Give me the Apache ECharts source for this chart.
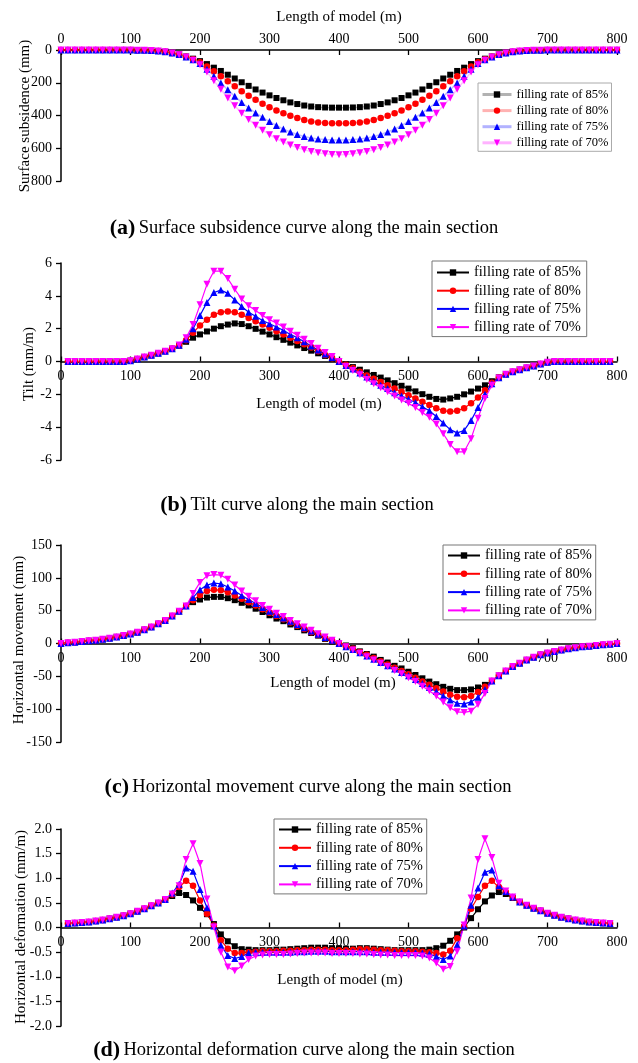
<!DOCTYPE html>
<html><head><meta charset="utf-8">
<script src="https://cdn.jsdelivr.net/npm/echarts/dist/echarts.min.js"></script>
<style>html,body{margin:0;padding:0;background:#fff}#c{width:638px;height:1063px}</style>
</head><body><div id="c"></div>
<script>
const NAMES = ['filling rate of 85%','filling rate of 80%','filling rate of 75%','filling rate of 70%'];
const COLORS = ['#000000','#ff0000','#0000ff','#ff00ff'];
const X_FULL = [0,10,20,30,40,50,60,70,80,90,100,110,120,130,140,150,160,170,180,190,200,210,220,230,240,250,260,270,280,290,300,310,320,330,340,350,360,370,380,390,400,410,420,430,440,450,460,470,480,490,500,510,520,530,540,550,560,570,580,590,600,610,620,630,640,650,660,670,680,690,700,710,720,730,740,750,760,770,780,790,800];
const X_INNER = [10,20,30,40,50,60,70,80,90,100,110,120,130,140,150,160,170,180,190,200,210,220,230,240,250,260,270,280,290,300,310,320,330,340,350,360,370,380,390,400,410,420,430,440,450,460,470,480,490,500,510,520,530,540,550,560,570,580,590,600,610,620,630,640,650,660,670,680,690,700,710,720,730,740,750,760,770,780,790];
const X_TICKS = [0,100,200,300,400,500,600,700,800];

// (a) Surface subsidence (mm), x = 0..800
const A85 = [0,0,0,0,0,0,0,0,0,0,0,1,1,3,6,11,18,28,40,53,68,86,108,128,151,174,197,219,241,260,277,293,307,320,330,339,345,349,351,352,352,
  352,351,349,345,339,330,320,307,293,277,260,241,219,197,174,151,128,108,86,68,53,40,28,18,11,6,3,1,1,0,0,0,0,0,0,0,0,0,0,0];
const A80 = [0,0,0,0,0,0,0,0,0,0,0,1,1,3,6,11,18,28,41,56,75,100,130,160,191,222,252,279,304,328,350,369,387,402,415,427,436,442,446,448,448,
  448,446,442,436,427,415,402,387,369,350,328,304,279,252,222,191,160,130,100,75,56,41,28,18,11,6,3,1,1,0,0,0,0,0,0,0,0,0,0,0];
const A75 = [0,0,0,0,0,0,0,0,0,0,0,1,1,3,6,11,18,28,42,60,83,118,160,202,243,283,320,354,384,411,437,461,483,501,516,528,537,543,547,549,550,
  549,547,543,537,528,516,501,483,461,437,411,384,354,320,283,243,202,160,118,83,60,42,28,18,11,6,3,1,1,0,0,0,0,0,0,0,0,0,0,0];
const A70 = [0,0,0,0,0,0,0,0,0,0,0,1,1,3,6,11,18,29,43,63,90,135,188,240,293,341,386,424,459,490,517,542,562,580,596,609,620,628,634,638,640,
  638,634,628,620,609,596,580,562,542,517,490,459,424,386,341,293,240,188,135,90,63,43,29,18,11,6,3,1,1,0,0,0,0,0,0,0,0,0,0,0];

// (b) Tilt (mm/m), x = 10..790
const B85 = [0,0,0,0,0,0,0,0,0,0.05,0.15,0.27,0.38,0.5,0.63,0.78,0.97,1.2,1.45,1.65,1.83,2.0,2.15,2.25,2.32,2.28,2.15,1.99,1.82,1.65,1.48,1.32,1.15,0.98,0.82,0.66,0.5,0.34,0.17,
  0,
  -0.17,-0.34,-0.5,-0.66,-0.82,-0.98,-1.15,-1.32,-1.48,-1.65,-1.82,-1.99,-2.15,-2.28,-2.32,-2.25,-2.15,-2.0,-1.83,-1.65,-1.45,-1.2,-0.97,-0.78,-0.63,-0.5,-0.38,-0.27,-0.15,-0.05,0,0,0,0,0,0,0,0,0];
const B80 = [0,0,0,0,0,0,0,0,0,0.05,0.15,0.27,0.38,0.5,0.63,0.78,0.98,1.3,1.75,2.2,2.55,2.85,3.0,3.05,3.0,2.85,2.65,2.45,2.25,2.05,1.85,1.65,1.45,1.25,1.05,0.85,0.62,0.4,0.2,
  0,
  -0.2,-0.4,-0.62,-0.85,-1.05,-1.25,-1.45,-1.65,-1.85,-2.05,-2.25,-2.45,-2.65,-2.85,-3.0,-3.05,-3.0,-2.85,-2.55,-2.2,-1.75,-1.3,-0.98,-0.78,-0.63,-0.5,-0.38,-0.27,-0.15,-0.05,0,0,0,0,0,0,0,0,0];
const B75 = [0,0,0,0,0,0,0,0,0,0.05,0.15,0.27,0.38,0.5,0.63,0.78,0.99,1.35,2.0,2.8,3.6,4.2,4.35,4.15,3.75,3.35,3.0,2.75,2.5,2.3,2.1,1.9,1.65,1.45,1.2,0.95,0.7,0.45,0.25,
  0,
  -0.25,-0.45,-0.7,-0.95,-1.2,-1.45,-1.65,-1.9,-2.1,-2.3,-2.5,-2.75,-3.0,-3.35,-3.75,-4.15,-4.35,-4.2,-3.6,-2.8,-2.0,-1.35,-0.99,-0.78,-0.63,-0.5,-0.38,-0.27,-0.15,-0.05,0,0,0,0,0,0,0,0,0];
const B70 = [0,0,0,0,0,0,0,0,0,0.05,0.15,0.27,0.38,0.5,0.63,0.78,1.0,1.45,2.25,3.45,4.7,5.5,5.5,5.05,4.4,3.8,3.4,3.1,2.8,2.55,2.35,2.1,1.85,1.6,1.35,1.1,0.8,0.55,0.3,
  0,
  -0.3,-0.55,-0.8,-1.1,-1.35,-1.6,-1.85,-2.1,-2.35,-2.55,-2.8,-3.1,-3.4,-3.8,-4.4,-5.05,-5.5,-5.5,-4.7,-3.45,-2.25,-1.45,-1.0,-0.78,-0.63,-0.5,-0.38,-0.27,-0.15,-0.05,0,0,0,0,0,0,0,0,0];

// (c) Horizontal movement (mm), x = 0..800
const C85 = [0,1,2,3,4,5,6.5,8,10,12,14.5,17,21,25,30,35,42,49,57,63,67,70,71,71,69,66,62,58,53,48,43,38,34,29,25,20,16,12,7,3,
  0,
  -3,-7,-12,-16,-20,-25,-29,-34,-38,-43,-48,-53,-58,-62,-66,-69,-71,-71,-70,-67,-63,-57,-49,-42,-35,-30,-25,-21,-17,-14.5,-12,-10,-8,-6.5,-5,-4,-3,-2,-1,0];
const C80 = [0,1,2,3,4,5,6.5,8,10,12,14.5,17,21,25,30,35,42,49,57,66,74,80,82,81,78,73,68,63,58,52,47,42,37,32,27,22,17,13,8,4,
  0,
  -4,-8,-13,-17,-22,-27,-32,-37,-42,-47,-52,-58,-63,-68,-73,-78,-81,-82,-80,-74,-66,-57,-49,-42,-35,-30,-25,-21,-17,-14.5,-12,-10,-8,-6.5,-5,-4,-3,-2,-1,0];
const C75 = [0,1,2,3,4,5,6.5,8,10,12,14.5,17,21,25,30,35,42,49,57,70,82,89,92,91,86,80,73,67,61,55,49,44,39,34,29,24,19,14,9,5,
  0,
  -5,-9,-14,-19,-24,-29,-34,-39,-44,-49,-55,-61,-67,-73,-80,-86,-91,-92,-89,-82,-70,-57,-49,-42,-35,-30,-25,-21,-17,-14.5,-12,-10,-8,-6.5,-5,-4,-3,-2,-1,0];
const C70 = [0,1,2,3,4,5,6.5,8,10,12,14.5,17,21,25,30,35,42,49,57,76,93,103,105,104,98,89,80,72,65,58,52,46,41,35,30,25,20,15,10,5,
  0,
  -5,-10,-15,-20,-25,-30,-35,-41,-46,-52,-58,-65,-72,-80,-89,-98,-104,-105,-103,-93,-76,-57,-49,-42,-35,-30,-25,-21,-17,-14.5,-12,-10,-8,-6.5,-5,-4,-3,-2,-1,0];

// (d) Horizontal deformation (mm/m), x = 10..790
const D85 = [0.08,0.09,0.1,0.11,0.13,0.15,0.18,0.21,0.24,0.28,0.33,0.38,0.44,0.5,0.57,
  0.64,0.70,0.66,0.55,0.40,0.27,0.07,-0.14,-0.28,-0.38,-0.44,-0.45,-0.46,-0.46,-0.46,
  -0.45,-0.45,-0.44,-0.43,-0.42,-0.41,-0.41,-0.41,-0.42,-0.42,
  -0.43,-0.43,-0.42,-0.42,-0.43,-0.44,-0.45,-0.46,-0.46,-0.46,
  -0.46,-0.46,-0.45,-0.42,-0.37,-0.27,-0.14,0.0,0.19,0.37,0.53,0.65,0.72,0.68,0.60,
  0.52,0.45,0.39,0.34,0.29,0.25,0.21,0.18,0.15,0.13,0.11,0.10,0.09,0.08];
const D80 = [0.08,0.09,0.1,0.11,0.13,0.15,0.18,0.21,0.24,0.28,0.33,0.38,0.44,0.5,0.57,
  0.67,0.82,0.95,0.85,0.55,0.28,0.04,-0.26,-0.43,-0.52,-0.52,-0.50,-0.49,-0.48,-0.48,
  -0.48,-0.47,-0.47,-0.46,-0.46,-0.45,-0.45,-0.45,-0.46,-0.46,
  -0.46,-0.45,-0.44,-0.44,-0.45,-0.46,-0.46,-0.47,-0.48,-0.48,
  -0.48,-0.49,-0.50,-0.52,-0.55,-0.47,-0.22,0.02,0.38,0.62,0.85,0.95,0.82,0.72,0.61,
  0.52,0.45,0.39,0.34,0.29,0.25,0.21,0.18,0.15,0.13,0.11,0.10,0.09,0.08];
const D75 = [0.08,0.09,0.1,0.11,0.13,0.15,0.18,0.21,0.24,0.28,0.33,0.38,0.44,0.5,0.57,
  0.70,0.88,1.21,1.14,0.77,0.40,0.03,-0.36,-0.57,-0.63,-0.59,-0.52,-0.50,-0.50,-0.50,
  -0.50,-0.50,-0.50,-0.49,-0.49,-0.48,-0.48,-0.48,-0.49,-0.49,
  -0.49,-0.49,-0.49,-0.49,-0.50,-0.50,-0.50,-0.50,-0.51,-0.51,
  -0.51,-0.52,-0.54,-0.59,-0.65,-0.58,-0.35,0.03,0.45,0.80,1.12,1.17,0.85,0.73,0.62,
  0.52,0.45,0.39,0.34,0.29,0.25,0.21,0.18,0.15,0.13,0.11,0.10,0.09,0.08];
const D70 = [0.08,0.09,0.1,0.11,0.13,0.15,0.18,0.21,0.24,0.28,0.33,0.38,0.44,0.5,0.57,
  0.68,0.85,1.38,1.70,1.30,0.58,0.01,-0.50,-0.80,-0.88,-0.78,-0.65,-0.58,-0.56,-0.55,
  -0.55,-0.55,-0.54,-0.53,-0.52,-0.52,-0.52,-0.52,-0.53,-0.53,
  -0.53,-0.53,-0.54,-0.54,-0.55,-0.56,-0.56,-0.57,-0.57,-0.57,
  -0.57,-0.58,-0.62,-0.72,-0.85,-0.79,-0.48,0.05,0.60,1.38,1.80,1.42,0.90,0.74,0.62,
  0.52,0.45,0.39,0.34,0.29,0.25,0.21,0.18,0.15,0.13,0.11,0.10,0.09,0.08];

const FONT = "'Liberation Serif','Times New Roman',serif";
const SYMBOLS = ['rect','circle','triangle','path://M0,0L10,0L5,9Z'];
const SIZES = [6,6.5,7,7];

function mk(i, xs, ys, gi, lineOpacity, lw) {
  return {
    name: NAMES[i], type: 'line', xAxisIndex: gi, yAxisIndex: gi,
    data: xs.map((x, k) => [x, ys[k]]),
    symbol: SYMBOLS[i], symbolSize: SIZES[i], showSymbol: true,
    itemStyle: {color: COLORS[i]},
    lineStyle: {color: COLORS[i], width: lw, opacity: lineOpacity},
    emphasis: {disabled: true}, silent: true, animation: false
  };
}

const series = [];
[B85,B80,B75,B70].forEach((d,i)=>series.push(mk(i, X_INNER, d, 1, 1, 1.2)));
[A85,A80,A75,A70].forEach((d,i)=>series.push(mk(i, X_FULL, d, 0, 0.25, 1.5)));
[C85,C80,C75,C70].forEach((d,i)=>series.push(mk(i, X_FULL, d, 2, 1, 1.2)));
[D85,D80,D75,D70].forEach((d,i)=>series.push(mk(i, X_INNER, d, 3, 1, 1.2)));

const grids = [
  {left: 61, top: 50, width: 556, height: 131},
  {left: 61, top: 263, width: 556, height: 197},
  {left: 61, top: 545, width: 556, height: 197},
  {left: 61, top: 829, width: 556, height: 197}
].map(g => Object.assign(g, {containLabel: false, outerBoundsMode: 'none'}));

const lbl = {color: '#000', fontFamily: FONT, fontSize: 14};

function xAx(gi, pos, margin, offset) {
  return {type: 'value', gridIndex: gi, position: pos, offset: offset,
    min: X_TICKS[0], max: X_TICKS[X_TICKS.length-1], interval: 100,
    axisLine: {show: true, onZero: false, lineStyle: {color: '#000', width: 1.5}},
    axisTick: {show: true, inside: true, length: 5, lineStyle: {color: '#000', width: 1.3}},
    axisLabel: Object.assign({margin: margin}, lbl), splitLine: {show: false}};
}
function yAx(gi, min, max, itv, extra) {
  return Object.assign({type: 'value', gridIndex: gi, min: min, max: max, interval: itv,
    axisLine: {show: true, onZero: false, lineStyle: {color: '#000', width: 1.5}},
    axisTick: {show: true, inside: false, length: 5, lineStyle: {color: '#000', width: 1.3}},
    axisLabel: Object.assign({margin: 9}, lbl), splitLine: {show: false}}, extra || {});
}

function legend(left, top, fs, iw, gap, pad, extra) {
  return Object.assign({
    orient: 'vertical', left: left, top: top, data: NAMES,
    itemWidth: iw, itemHeight: 8, itemGap: gap, padding: pad,
    borderColor: '#777', borderWidth: 1, backgroundColor: '#fff',
    textStyle: {color: '#000', fontFamily: FONT, fontSize: fs},
    selectedMode: false
  }, extra || {});
}

function htext(x, y, t) {
  return {type: 'text', x: x, y: y, silent: true, style: {text: t, font: '15px ' + FONT, fill: '#000', align: 'center', verticalAlign: 'middle'}};
}
function vtext(x, y, t) {
  return {type: 'text', x: x, y: y, rotation: Math.PI / 2, silent: true, style: {text: t, font: '15px ' + FONT, fill: '#000', align: 'center', verticalAlign: 'middle'}};
}
function caption(x, y, tag, t) {
  return {type: 'text', x: x, y: y, silent: true, style: {
    text: '{b|' + tag + '} {n|' + t + '}', fill: '#000', align: 'center', verticalAlign: 'middle',
    rich: {b: {fontSize: 22, fontWeight: 'bold', fontFamily: FONT, fill: '#000'},
           n: {fontSize: 18.5, fontFamily: FONT, fill: '#000'}}}};
}

const chart = echarts.init(document.getElementById('c'), null, {renderer: 'canvas'});
chart.setOption({
  animation: false,
  backgroundColor: '#fff',
  grid: grids,
  xAxis: [xAx(0, 'top', 4, 0), xAx(1, 'bottom', 8, -98.5), xAx(2, 'bottom', 8, -98.5), xAx(3, 'bottom', 8, -98.5)],
  yAxis: [
    yAx(0, 0, 800, 200, {inverse: true}),
    yAx(1, -6, 6, 2),
    yAx(2, -150, 150, 50),
    yAx(3, -2, 2, 0.5, {axisLabel: Object.assign({margin: 9, formatter: v => v.toFixed(1)}, lbl)})
  ],
  legend: [
    legend(478, 83, 12.5, 29, 3.1, [5, 3, 2, 3], {lineStyle: {opacity: 0.3, width: 3}, borderColor: '#aaa'}),
    legend(432, 261, 14.5, 32, 3.2, [4, 6, 2, 4]),
    legend(443, 545, 14.5, 32, 3.3, [3, 4, 2, 4]),
    legend(274, 819, 14.5, 32, 3.3, [3, 4, 2, 4])
  ],
  series: series,
  graphic: [
    htext(339, 17, 'Length of model (m)'),
    htext(319, 404, 'Length of model (m)'),
    htext(333, 683, 'Length of model (m)'),
    htext(340, 980, 'Length of model (m)'),
    vtext(25, 116, 'Surface subsidence (mm)'),
    vtext(29, 364, 'Tilt (mm/m)'),
    vtext(19, 640, 'Horizontal movement (mm)'),
    vtext(21, 927, 'Horizontal deformation (mm/m)'),
    caption(304, 228, '(a)', 'Surface subsidence curve along the main section'),
    caption(297, 505, '(b)', 'Tilt curve along the main section'),
    caption(308, 787, '(c)', 'Horizontal movement curve along the main section'),
    caption(304, 1050, '(d)', 'Horizontal deformation curve along the main section')
  ]
});
</script></body></html>
